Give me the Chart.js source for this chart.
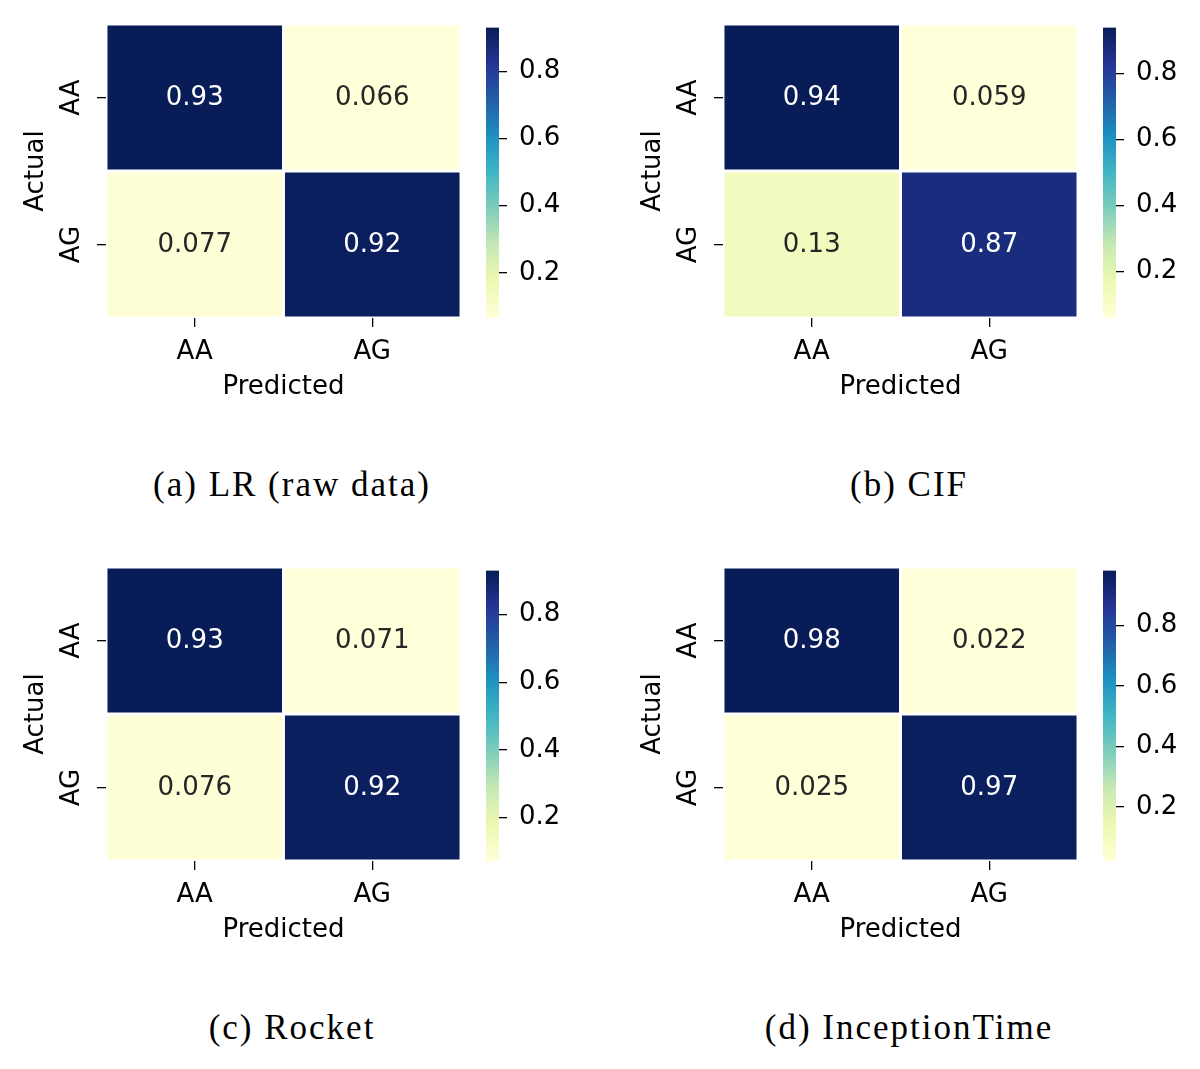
<!DOCTYPE html>
<html><head><meta charset="utf-8">
<script src="https://cdn.jsdelivr.net/npm/chart.js@4.4.1/dist/chart.umd.min.js"></script>
<style>
html,body{margin:0;padding:0;background:#fff;}
#wrap{position:relative;width:1200px;height:1069px;overflow:hidden;background:#fff;}
canvas{position:absolute;}
.cap{position:absolute;width:584px;text-align:center;font-family:'Liberation Serif','Times New Roman',serif;font-size:35px;letter-spacing:2px;color:#000;line-height:40px;white-space:nowrap;}
</style></head><body><div id="wrap"></div>
<script>
// ---- data ----
const classLabels = ['AA', 'AG'];
const lrRaw = [[0.93, 0.066], [0.077, 0.92]];
const cif = [[0.94, 0.059], [0.13, 0.87]];
const rocket = [[0.93, 0.071], [0.076, 0.92]];
const inceptionTime = [[0.98, 0.022], [0.025, 0.97]];
const colorbarTicks = [0.2, 0.4, 0.6, 0.8];
const captions = ['(a) LR (raw data)', '(b) CIF', '(c) Rocket', '(d) InceptionTime'];
const xTitle = 'Predicted';
const yTitle = 'Actual';

// ---- style / layout ----
const matrices = [lrRaw, cif, rocket, inceptionTime];
const panelOrigins = [[0, 0], [617, 0], [0, 543], [617, 543]];
const ylgnbu = ['#ffffd9','#edf8b1','#c7e9b4','#7fcdbb','#41b6c4','#1d91c0','#225ea8','#253494','#081d58'];
const FONT = 'DejaVu Sans';
Chart.defaults.font.family = FONT;
Chart.defaults.color = '#000';

function hexToRgb(h){ return [parseInt(h.slice(1,3),16), parseInt(h.slice(3,5),16), parseInt(h.slice(5,7),16)]; }
function cmapRgb(t){
  t = Math.max(0, Math.min(1, t));
  const n = ylgnbu.length - 1, p = t * n;
  const i = Math.min(Math.floor(p), n - 1), f = p - i;
  const a = hexToRgb(ylgnbu[i]), b = hexToRgb(ylgnbu[i+1]);
  return a.map((c,k)=>Math.round(c + (b[k]-c)*f));
}
function lum(rgb){
  const c = rgb.map(v=>{v/=255; return v<=0.03928? v/12.92 : Math.pow((v+0.055)/1.055,2.4);});
  return 0.2126*c[0]+0.7152*c[1]+0.0722*c[2];
}

const heatPlugin = {
  id: 'heatText',
  afterDatasetsDraw(chart){
    const ctx = chart.ctx;
    ctx.save();
    ctx.font = '26px "' + FONT + '"';
    ctx.textAlign = 'center';
    ctx.textBaseline = 'middle';
    chart.data.datasets.forEach((ds, i)=>{
      chart.getDatasetMeta(i).data.forEach((bar, j)=>{
        ctx.fillStyle = ds.textColors[j];
        ctx.fillText(ds.values[j].toPrecision(2), bar.x, (bar.y + bar.base)/2 + 1);
      });
    });
    ctx.restore();
  },
  afterDraw(chart){
    const ctx = chart.ctx, ys = chart.scales.y;
    const nRows = chart.data.datasets.length;
    ctx.save();
    ctx.font = '26px "' + FONT + '"';
    ctx.fillStyle = '#000';
    ctx.textAlign = 'center';
    ctx.textBaseline = 'middle';
    classLabels.forEach((lab, i)=>{
      const y = ys.getPixelForValue(nRows - 1 - i + 0.5);
      ctx.save();
      ctx.translate(ys.right - 34, y);
      ctx.rotate(-Math.PI/2);
      ctx.fillText(lab, 0, 0);
      ctx.restore();
    });
    ctx.restore();
  }
};

function makeCanvas(left, top, w, h){
  const c = document.createElement('canvas');
  c.width = w; c.height = h;
  c.style.left = left + 'px'; c.style.top = top + 'px';
  c.style.width = w + 'px'; c.style.height = h + 'px';
  document.getElementById('wrap').appendChild(c);
  return c;
}

function makeHeatmap(canvas, matrix, vmin, vmax){
  const nRows = matrix.length;
  const datasets = matrix.map((row, i)=>{
    const rgbs = row.map(v=>cmapRgb((v - vmin)/(vmax - vmin)));
    return {
      data: row.map(()=>[nRows - 1 - i, nRows - i]),
      backgroundColor: rgbs.map(c=>'rgb(' + c.join(',') + ')'),
      textColors: rgbs.map(c=> lum(c) < 0.408 ? '#ffffff' : '#262626'),
      values: row,
      borderColor: '#ffffff', borderWidth: 1.8, borderSkipped: false,
      barPercentage: 1, categoryPercentage: 1, grouped: false
    };
  });
  new Chart(canvas, {
    type: 'bar',
    data: { labels: classLabels, datasets },
    options: {
      responsive: false, animation: false, devicePixelRatio: 1,
      layout: { padding: { left: 0, top: 24, right: 14, bottom: 0 } },
      plugins: { legend: { display: false }, tooltip: { enabled: false } },
      scales: {
        x: {
          type: 'category', offset: true,
          grid: { display: true, drawOnChartArea: false, drawTicks: true, tickLength: 9, offset: false, color: '#000', lineWidth: 1.3 },
          border: { display: false },
          ticks: { font: { size: 26 }, color: '#000', padding: 10, maxRotation: 0 },
          title: { display: true, text: xTitle, font: { size: 26 }, color: '#000', padding: { top: 0, bottom: 17 } },
          afterFit: s => { s.height = 102; }
        },
        y: {
          type: 'linear', min: 0, max: nRows,
          afterBuildTicks: s => { s.ticks = classLabels.map((_, i)=>({ value: i + 0.5 })); },
          grid: { display: true, drawOnChartArea: false, drawTicks: true, tickLength: 9, color: '#000', lineWidth: 1.3 },
          border: { display: false },
          ticks: { display: false },
          title: { display: true, text: yTitle, font: { size: 26 }, color: '#000', padding: { top: 21, bottom: 0 } },
          afterFit: s => { s.width = 106; }
        }
      }
    },
    plugins: [heatPlugin]
  });
}

function makeColorbar(canvas, vmin, vmax){
  new Chart(canvas, {
    type: 'bar',
    data: {
      labels: [''],
      datasets: [{
        data: [[vmin, vmax]],
        backgroundColor: c => {
          const a = c.chart.chartArea;
          if (!a) return ylgnbu[0];
          const g = c.chart.ctx.createLinearGradient(0, a.bottom, 0, a.top);
          ylgnbu.forEach((col, k)=>g.addColorStop(k/(ylgnbu.length-1), col));
          return g;
        },
        borderWidth: 0, barPercentage: 1, categoryPercentage: 1
      }]
    },
    options: {
      responsive: false, animation: false, devicePixelRatio: 1,
      layout: { padding: { left: 11, top: 24, right: 0, bottom: 102 } },
      plugins: { legend: { display: false }, tooltip: { enabled: false } },
      scales: {
        x: { display: false },
        y: {
          position: 'right', min: vmin, max: vmax,
          afterBuildTicks: s => { s.ticks = colorbarTicks.filter(v=>v>=vmin && v<=vmax).map(v=>({ value: v })); },
          grid: { display: true, drawOnChartArea: false, drawTicks: true, tickLength: 8, color: '#000', lineWidth: 1.3 },
          border: { display: false },
          ticks: { font: { size: 26 }, color: '#000', padding: 12, callback: v => Number(v).toFixed(1) },
          afterFit: s => { s.width = 101; }
        }
      }
    }
  });
}

matrices.forEach((m, k)=>{
  const [ox, oy] = panelOrigins[k];
  const vals = m.flat();
  const vmin = Math.min(...vals), vmax = Math.max(...vals);
  makeHeatmap(makeCanvas(ox, oy, 475, 420), m, vmin, vmax);
  makeColorbar(makeCanvas(ox + 475, oy, 125, 420), vmin, vmax);
  const cap = document.createElement('div');
  cap.className = 'cap';
  cap.style.left = ox + 'px';
  cap.style.top = (oy + 465) + 'px';
  cap.textContent = captions[k];
  document.getElementById('wrap').appendChild(cap);
});
</script>
</body></html>
